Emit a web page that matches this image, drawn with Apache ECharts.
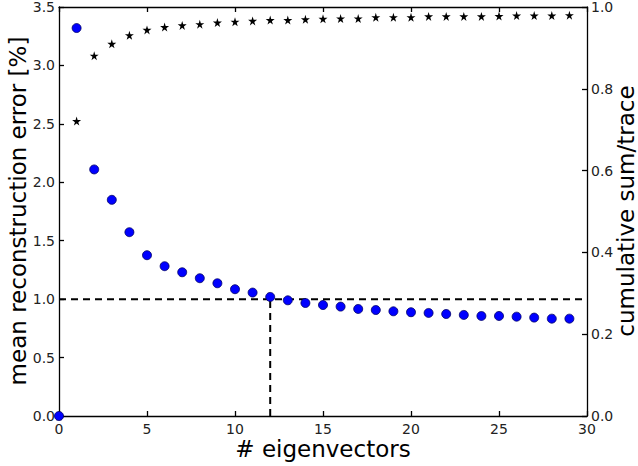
<!DOCTYPE html>
<html><head><meta charset="utf-8">
<script src="https://cdn.jsdelivr.net/npm/echarts@6/dist/echarts.min.js"></script>
<style>html,body{margin:0;padding:0;background:#fff}#c{width:638px;height:466px}</style>
</head><body><div id="c"></div>
<script>
const eigenvectors = [0,1,2,3,4,5,6,7,8,9,10,11,12,13,14,15,16,17,18,19,20,21,22,23,24,25,26,27,28,29];
const meanError = [0,3.32,2.11,1.85,1.573,1.376,1.282,1.230,1.179,1.136,1.085,1.056,1.019,0.990,0.967,0.950,0.936,0.916,0.907,0.896,0.888,0.882,0.873,0.865,0.856,0.856,0.850,0.842,0.833,0.833];
const cumSum = [0,0.721,0.881,0.910,0.931,0.944,0.951,0.955,0.958,0.962,0.964,0.966,0.968,0.968,0.970,0.971,0.972,0.972,0.975,0.975,0.975,0.977,0.977,0.977,0.977,0.978,0.979,0.979,0.979,0.980];
const threshold = 1.0;
const chosenK = 12;
const xTicks = [0,5,10,15,20,25,30];
const leftTicks = [0.0,0.5,1.0,1.5,2.0,2.5,3.0,3.5];
const rightTicks = [0.0,0.2,0.4,0.6,0.8,1.0];
const xTitle = '# eigenvectors';
const leftTitle = 'mean reconstruction error [%]';
const rightTitle = 'cumulative sum/trace';

const star = 'path://M50,0 L61,35 L98,35 L68,57 L79,91 L50,70 L21,91 L32,57 L2,35 L39,35 Z';
const font = 'DejaVu Sans';
const chart = echarts.init(document.getElementById('c'), null, {renderer:'svg'});
const axisLine = () => ({show:true, onZero:false, lineStyle:{color:'#000000', width:1.3, opacity:1, type:'solid'}});
const tick = () => ({show:true, inside:true, length:5, lineStyle:{color:'#000000', width:1.3, opacity:1, type:'solid'}});
const titleStyle = (t) => ({text:t, fontFamily:font, fontSize:23, fill:'#000', align:'center', verticalAlign:'middle'});
chart.setOption({
  animation:false,
  grid:{left:59, right:51, top:7, bottom:50, containLabel:false, outerBoundsMode:'none'},
  xAxis:[{
    type:'value', min:xTicks[0], max:xTicks[xTicks.length-1], interval:5,
    axisLine:axisLine(), axisTick:tick(), splitLine:{show:false},
    axisLabel:{fontFamily:font, fontSize:14, color:'#222', margin:6}
  },{
    type:'value', position:'top', min:0, max:30, interval:5,
    axisLine:axisLine(), axisTick:tick(), axisLabel:{show:false}, splitLine:{show:false}
  }],
  yAxis:[{
    type:'value', position:'left', min:leftTicks[0], max:leftTicks[leftTicks.length-1], interval:0.5,
    axisLine:axisLine(), axisTick:tick(), splitLine:{show:false},
    axisLabel:{fontFamily:font, fontSize:14, color:'#222', margin:4, formatter:v=>v.toFixed(1)}
  },{
    type:'value', position:'right', min:rightTicks[0], max:rightTicks[rightTicks.length-1], interval:0.2,
    axisLine:axisLine(), axisTick:tick(), splitLine:{show:false},
    axisLabel:{fontFamily:font, fontSize:14, color:'#222', margin:4, formatter:v=>v.toFixed(1)}
  }],
  graphic:[
    {type:'text', x:323, y:449, style:titleStyle(xTitle)},
    {type:'text', x:18, y:211, rotation:Math.PI/2, style:titleStyle(leftTitle)},
    {type:'text', x:626, y:211, rotation:Math.PI/2, style:titleStyle(rightTitle)}
  ],
  series:[
    {type:'scatter', yAxisIndex:1, symbol:star, symbolSize:9, clip:true,
     itemStyle:{color:'#000', opacity:1}, data:eigenvectors.map((x,i)=>[x,cumSum[i]]), z:2},
    {type:'line', data:[[xTicks[0],threshold],[xTicks[xTicks.length-1],threshold]], symbol:'none',
     lineStyle:{color:'#000', width:2, type:[7,5]}, z:3},
    {type:'line', data:[[chosenK,0],[chosenK,threshold]], symbol:'none',
     lineStyle:{color:'#000', width:2, type:[7,5]}, z:3},
    {type:'scatter', symbol:'circle', symbolSize:9, clip:true,
     itemStyle:{color:'#0000ff', borderColor:'#000066', borderWidth:0.8, opacity:1},
     data:eigenvectors.map((x,i)=>[x,meanError[i]]), z:4}
  ]
});
</script></body></html>
